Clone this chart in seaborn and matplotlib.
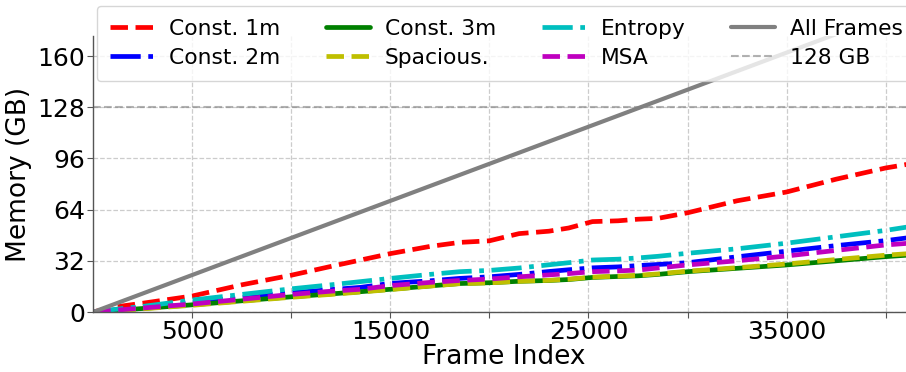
import matplotlib
matplotlib.use("Agg")
import matplotlib.pyplot as plt
import seaborn as sns
import pandas as pd

frames = [0, 1000, 2500, 5000, 7500, 10000, 12000, 13500, 15000, 17000, 18500,
          20000, 21500, 23000, 24000, 25200, 26500, 27500, 28500, 30000, 32500,
          35000, 37500, 40000, 41200]
const_1m = [0, 3, 5.5, 10, 17, 23, 28.5, 32.5, 36.5, 41, 43.5, 44.5, 49, 50.5, 52.5,
            56.5, 57, 58, 58.5, 62, 69.5, 75, 83, 90, 92.5]
const_2m = [0, 1.2, 3, 6, 9, 12, 14, 15.4, 17.9, 19.5, 21, 22, 23.5, 25.3, 26.4,
            27.6, 28.2, 29, 29.7, 30.8, 34.5, 38, 41.5, 44.6, 46.5]
const_3m = [0, 0.8, 2.2, 4.5, 7, 9.5, 11.3, 12.7, 14.2, 16.3, 17.8, 18.3, 19.2, 19.7,
            20.3, 21.6, 22.2, 22.6, 23.5, 25.2, 27.3, 29.4, 32, 34.6, 35.6]
spacious = [0, 0.7, 2, 4.2, 6.7, 9.2, 11, 12.5, 14, 16.2, 17.7, 18.2, 19.2, 19.8,
            20.5, 21.8, 22.4, 22.9, 23.8, 25.5, 27.7, 30, 32.8, 35.5, 36.5]
entropy = [0, 1.5, 3.5, 7.5, 11, 14.5, 17, 19, 21, 23.5, 25.2, 26, 27.5, 29.5, 30.8,
           32.5, 33, 33.8, 34.8, 36.7, 39.5, 43, 47, 51, 53.3]
msa = [0, 1, 2.5, 5, 8, 11, 13, 14.2, 16.5, 18.5, 19.7, 20.6, 22, 23.2, 24, 25.2,
       25.7, 26.2, 27.5, 29.4, 32, 35, 38.5, 41.9, 43]
all_frames_x = [0, 41200]
all_frames = [0, 190.8]
limit_gb = 128

yticks = [0, 32, 64, 96, 128, 160]
xticks = [5000, 10000, 15000, 20000, 25000, 30000, 35000, 40000]
xticklabels = ["5000", "", "15000", "", "25000", "", "35000", ""]

sns.set_style("white")
plt.rcParams['font.family'] = ['DejaVu Sans']
plt.rcParams['text.color'] = 'black'
plt.rcParams['axes.labelcolor'] = 'black'
plt.rcParams['xtick.labelcolor'] = 'black'
plt.rcParams['ytick.labelcolor'] = 'black'

fig = plt.figure(figsize=(9.06, 3.72), dpi=100)
ax = fig.add_axes([93.3 / 906, 60 / 372, 820 / 906, 276 / 372])

series = [
    ("Const. 1m", const_1m, "r", "--"),
    ("Const. 2m", const_2m, "b", "-."),
    ("Const. 3m", const_3m, "g", "-"),
    ("Spacious.", spacious, "y", "--"),
    ("Entropy", entropy, "c", "-."),
    ("MSA", msa, "m", "--"),
]
for name, vals, col, ls in series:
    df = pd.DataFrame({"x": frames, "y": vals})
    sns.lineplot(data=df, x="x", y="y", ax=ax, color=col, linestyle=ls,
                 linewidth=3.4, label=name)

dfa = pd.DataFrame({"x": all_frames_x, "y": all_frames})
sns.lineplot(data=dfa, x="x", y="y", ax=ax, color="gray", linestyle="-",
             linewidth=3, label="All Frames")
ax.axhline(limit_gb, color="gray", linestyle="--", linewidth=1.5, alpha=0.6,
           label="128 GB")

ax.set_xlim(0, 41400)
ax.set_ylim(0, 172.5)
ax.set_yticks(yticks)
ax.set_xticks(xticks)
ax.set_xticklabels(xticklabels)
ax.tick_params(axis="both", labelsize=18, length=4, color="#555555", pad=2,
               bottom=True, left=True)
ax.grid(True, linestyle="--", color="#cccccc", linewidth=0.9)
ax.set_xlabel("Frame Index", fontsize=19, labelpad=0)
ax.set_ylabel("Memory (GB)", fontsize=19, labelpad=4)
for s in ["top", "right"]:
    ax.spines[s].set_visible(False)
for s in ["left", "bottom"]:
    ax.spines[s].set_color("#555555")
    ax.spines[s].set_linewidth(1.0)

ax.legend(ncol=4, loc="upper left", bbox_to_anchor=(97 / 906, 1 - 6 / 372),
          bbox_transform=fig.transFigure, fontsize=15.7, framealpha=0.8,
          handlelength=2.0, columnspacing=2.1, borderaxespad=0,
          handletextpad=0.7, labelspacing=0.4, borderpad=0.6)

fig.savefig("out.png", dpi=100)
